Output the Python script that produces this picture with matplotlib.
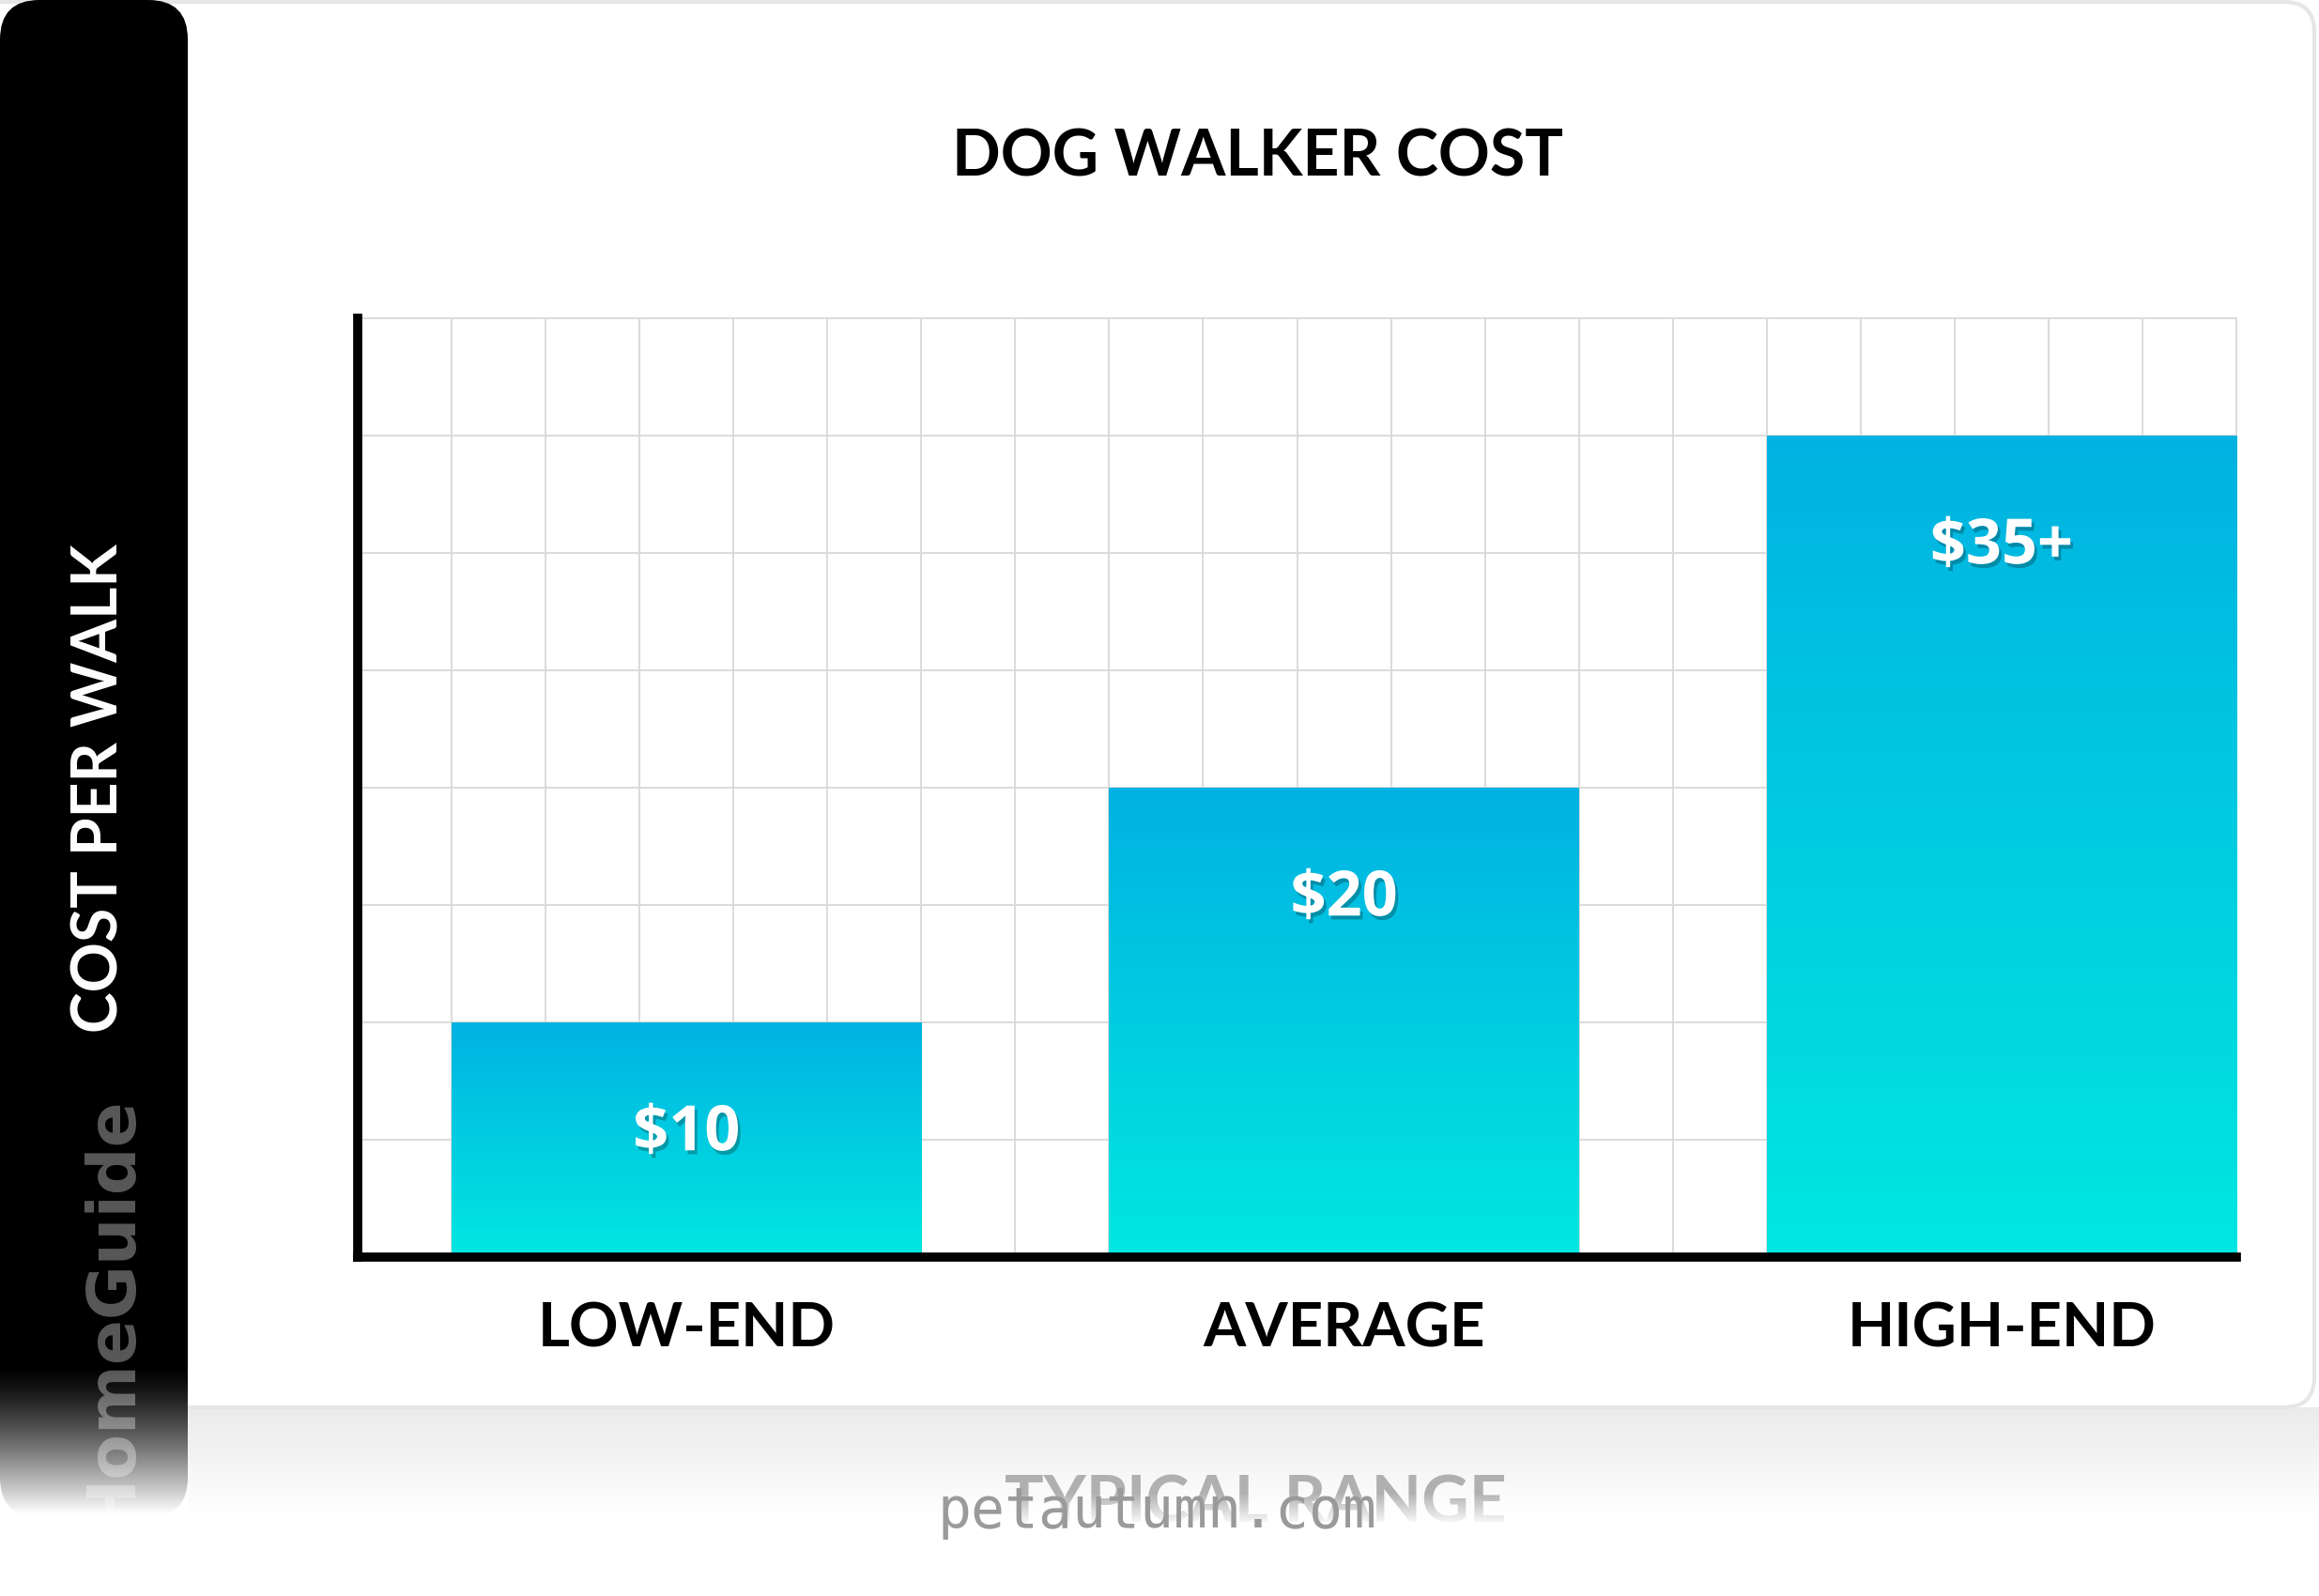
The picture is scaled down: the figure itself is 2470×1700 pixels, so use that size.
import numpy as np
import matplotlib.pyplot as plt
import matplotlib.patheffects as pe
from matplotlib.patches import FancyBboxPatch, Rectangle

# Data
categories = ["LOW-END", "AVERAGE", "HIGH-END"]
costs = [10, 20, 35]
cost_labels = ["$10", "$20", "$35+"]
title = "DOG WALKER COST"
y_label = "COST PER WALK"
x_label = "TYPICAL RANGE"

FONT = "Lato"
TOP_COLOR = np.array([0, 178, 226]) / 255
BOTTOM_COLOR = np.array([0, 231, 224]) / 255

W, H = 2470, 1700
fig = plt.figure(figsize=(W / 100, H / 100), dpi=100)
fig.patch.set_facecolor("white")

# Background layer in pixel coordinates
bg = fig.add_axes([0, 0, 1, 1], zorder=-10)
bg.set_xlim(0, W)
bg.set_ylim(H, 0)
bg.axis("off")

# grey reflection band under the card
band = np.linspace(0, 1, 100)[:, None]
band_rgb = np.dstack([0.92 + 0.08 * band] * 3)
bg.imshow(band_rgb, extent=(200, W, 1615, 1499), aspect="auto", zorder=0)

# white card
card = FancyBboxPatch((-60, 2), W - 5 + 60, 1497,
                      boxstyle="round,pad=0,rounding_size=32",
                      facecolor="white", edgecolor="#e6e6e6", linewidth=3, zorder=1)
bg.add_patch(card)

# black side panel
panel = FancyBboxPatch((0, 0), 200, 1616, boxstyle="round,pad=0,rounding_size=42",
                       facecolor="black", edgecolor="none", zorder=2)
bg.add_patch(panel)

brand = bg.text(139, 1166, "HomeGuide", rotation=90, rotation_mode="anchor",
                ha="right", va="baseline", color="#585858", fontsize=51,
                fontweight="bold", family="DejaVu Sans", zorder=3, clip_on=True)
brand.set_clip_path(Rectangle((0, 0), 200, 1612, transform=bg.transData))

# fade the panel bottom into white
fade = np.clip((np.linspace(1455, 1660, 240) - 1455) / (1612 - 1455), 0, 1)[:, None]
fade_rgba = np.zeros((240, 1, 4))
fade_rgba[..., :3] = 1
fade_rgba[..., 3] = fade ** 1.3
bg.imshow(fade_rgba, extent=(0, 200, 1660, 1455), aspect="auto", zorder=4)

bg.text(126, 840, y_label, rotation=90, rotation_mode="anchor", ha="center",
        va="baseline", color="white", fontsize=47.5, fontweight="bold",
        family=FONT, zorder=5)

bg.text(1339, 187, title, ha="center", va="baseline", fontsize=49,
        fontweight="bold", family=FONT, color="black", zorder=5)

# faded axis title and watermark at the bottom
bg.text(1337, 1622, x_label, ha="center", va="baseline", fontsize=50,
        fontweight="bold", family=FONT, color="#b0b0b0", zorder=5)
cover = np.zeros((100, 1, 4))
cover[..., :3] = 1
cover[..., 3] = np.linspace(0, 1, 100)[:, None]
bg.imshow(cover, extent=(900, 1800, 1625, 1590), aspect="auto", zorder=6)
bg.text(1232, 1610, "petautumn.com", ha="center", va="center", fontsize=43,
        family="DejaVu Sans Mono", color="#9a9a9a", zorder=7)

# Main chart
ax = fig.add_axes([381 / W, 1 - 1339 / H, 2001 / W, 1000 / H], zorder=1)
ax.set_facecolor("none")
n_cols = 20
x = np.arange(len(categories)) * 7 + 3.5
bars = ax.bar(x, costs, width=5, facecolor="none", edgecolor="none", zorder=3)

grad = np.linspace(0, 1, 256)[:, None, None]
grad_img = TOP_COLOR * (1 - grad) + BOTTOM_COLOR * grad
for bar in bars:
    x0, y0 = bar.get_x(), bar.get_y()
    im = ax.imshow(grad_img, extent=(x0, x0 + bar.get_width(), y0, y0 + bar.get_height()),
                   origin="upper", aspect="auto", zorder=3)
    im.set_clip_path(bar)

shadow = [pe.SimplePatchShadow(offset=(2, -3), shadow_rgbFace="black", alpha=0.25),
          pe.Normal()]
for xi, c, lab in zip(x, costs, cost_labels):
    ax.text(xi, c - 4.75, lab, ha="center", va="center", color="white", fontsize=48,
            fontweight="bold", family="Open Sans", zorder=5, path_effects=shadow)

ax.set_xlim(0, n_cols)
ax.set_ylim(0, 40)
ax.set_xticks(x, categories)
ax.set_xticks(np.arange(0, n_cols + 1), minor=True)
ax.set_yticks(np.arange(0, 41, 5))
ax.tick_params(axis="both", which="both", length=0)
ax.tick_params(axis="y", labelleft=False)
ax.tick_params(axis="x", pad=34)
for t in ax.get_xticklabels():
    t.set_fontsize(47)
    t.set_fontweight("bold")
    t.set_family(FONT)
ax.grid(which="minor", axis="x", color="#dadada", linewidth=1.4, zorder=0)
ax.grid(which="major", axis="y", color="#dadada", linewidth=1.4, zorder=0)
ax.set_axisbelow(True)

for side in ["top", "right"]:
    ax.spines[side].set_color("#dadada")
    ax.spines[side].set_linewidth(1.4)
for side in ["left", "bottom"]:
    ax.spines[side].set_color("black")
    ax.spines[side].set_linewidth(7)
    ax.spines[side].set_zorder(6)

fig.savefig("out.png", dpi=100)
